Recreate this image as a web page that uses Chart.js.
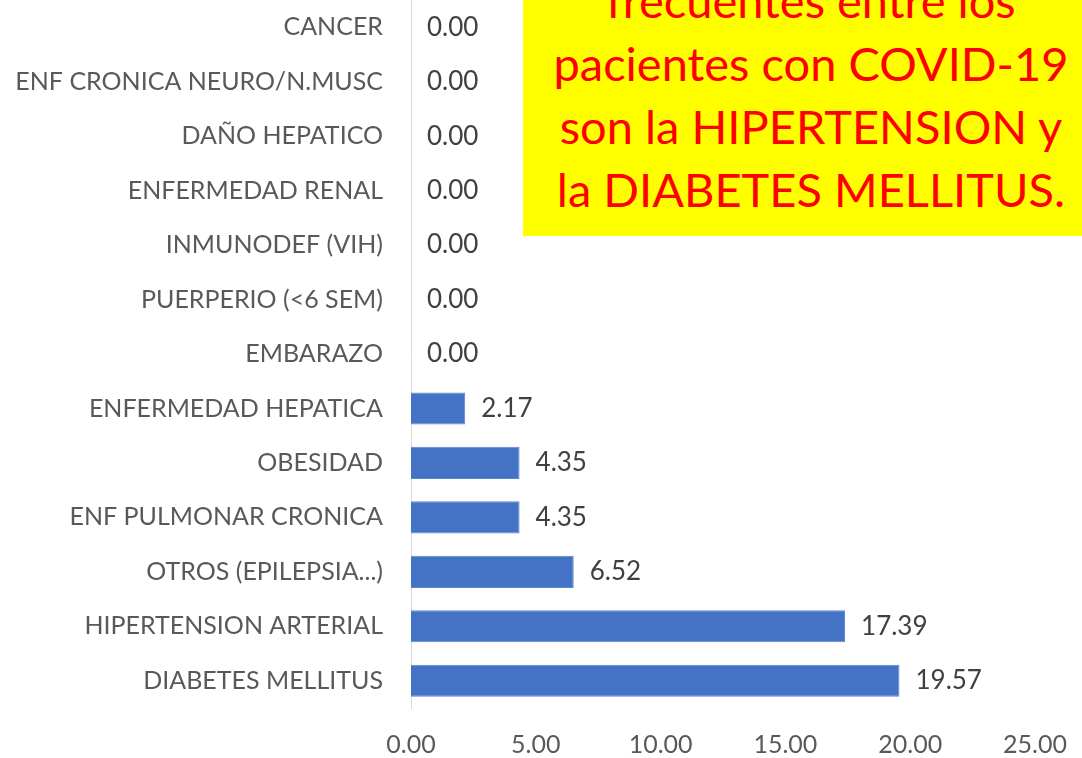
<!DOCTYPE html>
<html>
<head>
<meta charset="utf-8">
<script src="https://cdn.jsdelivr.net/npm/chart.js@4"></script>
<style>
  html, body { margin: 0; padding: 0; background: #fff; overflow: hidden; }
  #wrap { position: relative; width: 1082px; height: 758px; overflow: hidden; }
  #note {
    position: absolute; left: 523px; top: 0; width: 576px; height: 236px;
    background: #ffff00; color: #ff0000; overflow: hidden;
    font-family: Lato, sans-serif; font-size: 47px; line-height: 63px; text-align: center;
  }
  #note .inner { position: absolute; left: 0; right: 0; top: -31px; }
</style>
</head>
<body>
<div id="wrap">
  <canvas id="chart" width="1082" height="758"></canvas>
  <div id="note"><div class="inner">frecuentes entre los<br>pacientes con COVID-19<br>son la HIPERTENSION y<br>la DIABETES MELLITUS.</div></div>
</div>
<script>
// Data (top to bottom)
const categories = [
    'CANCER',
    'ENF CRONICA NEURO/N.MUSC',
    'DAÑO HEPATICO',
    'ENFERMEDAD RENAL',
    'INMUNODEF (VIH)',
    'PUERPERIO (<6 SEM)',
    'EMBARAZO',
    'ENFERMEDAD HEPATICA',
    'OBESIDAD',
    'ENF PULMONAR CRONICA',
    'OTROS (EPILEPSIA...)',
    'HIPERTENSION ARTERIAL',
    'DIABETES MELLITUS'
];
const values = [0, 0, 0, 0, 0, 0, 0, 2.17, 4.35, 4.35, 6.52, 17.39, 19.57];
const xTicks = [0, 5, 10, 15, 20, 25];

// Value labels next to each bar
const valueLabels = {
    id: 'valueLabels',
    afterDatasetsDraw(chart) {
        const ctx = chart.ctx;
        const meta = chart.getDatasetMeta(0);
        ctx.save();
        ctx.font = '26px Lato, sans-serif';
        ctx.fillStyle = '#404040';
        ctx.textAlign = 'left';
        ctx.textBaseline = 'middle';
        meta.data.forEach((bar, i) => {
            ctx.fillText(values[i].toFixed(2), bar.x + 16, bar.y);
        });
        ctx.restore();
    }
};

const ctx = document.getElementById('chart').getContext('2d');
new Chart(ctx, {
    type: 'bar',
    data: {
        labels: categories,
        datasets: [{
            data: values,
            backgroundColor: '#4472c4',
            borderColor: '#5b86cf',
            borderWidth: 1,
            categoryPercentage: 1,
            barPercentage: 0.59
        }]
    },
    options: {
        indexAxis: 'y',
        responsive: false,
        animation: false,
        layout: { padding: { top: 0, right: 47, bottom: 0, left: 0 } },
        plugins: { legend: { display: false }, tooltip: { enabled: false } },
        scales: {
            x: {
                min: 0,
                max: 25,
                afterBuildTicks: (scale) => { scale.ticks = xTicks.map(v => ({ value: v })); },
                afterFit: (scale) => {
                    scale.height = 50;
                    scale.paddingLeft = 0;
                    scale.paddingRight = 0;
                },
                grid: { display: false, drawTicks: false },
                border: { display: false },
                ticks: {
                    padding: 22,
                    color: '#595959',
                    font: { family: 'Lato, sans-serif', size: 25 },
                    maxRotation: 0,
                    callback: (v) => Number(v).toFixed(2)
                }
            },
            y: {
                afterFit: (scale) => {
                    scale.width = 411;
                    scale.paddingTop = 0;
                    scale.paddingBottom = 0;
                },
                grid: { display: false, drawTicks: false },
                border: { display: true, color: '#d9d9d9', width: 1 },
                ticks: {
                    padding: 28,
                    color: '#595959',
                    font: { family: 'Lato, sans-serif', size: 25 },
                    autoSkip: false
                }
            }
        }
    },
    plugins: [valueLabels]
});
</script>
</body>
</html>
